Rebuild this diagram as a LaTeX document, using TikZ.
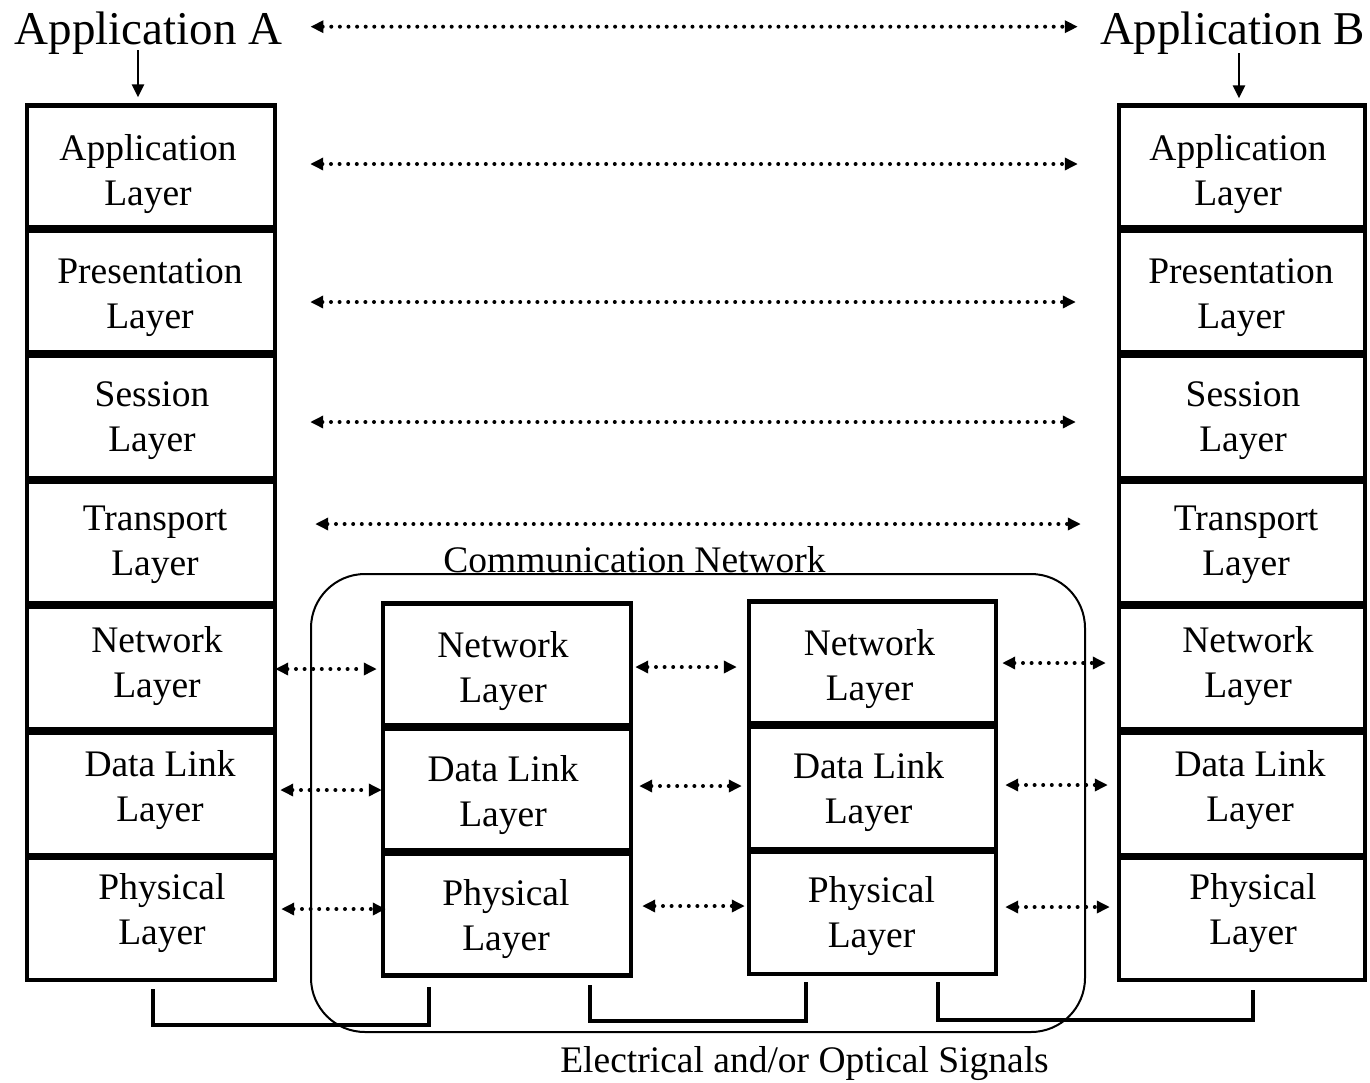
\documentclass[tikz,border=0pt]{standalone}
\usepackage{fontspec}
\setmainfont{Liberation Serif}
\usetikzlibrary{arrows.meta}
\begin{document}
\begin{tikzpicture}[x=1pt,y=-1pt,
  layer/.style={draw, line width=4.4pt, minimum width=248pt, minimum height=122pt, inner sep=0pt},
  lt/.style={align=center, inner sep=0pt, font=\fontsize{37.5}{45}\selectfont},
  lbl/.style={inner sep=0pt, anchor=base, font=\fontsize{37.5}{45}\selectfont},
  big/.style={inner sep=0pt, anchor=base, font=\fontsize{47}{56}\selectfont},
  dar/.style={line width=4pt, dash pattern=on 0pt off 8.6pt, line cap=round,
    {Triangle[length=13pt,width=12pt]}-{Triangle[length=13pt,width=12pt]}},
  sar/.style={line width=2.8pt, -{Triangle[length=13pt,width=12pt]}},
  br/.style={line width=4.4pt}]
\useasboundingbox (0,0) rectangle (1370,1082);

% container
\node[draw, line width=2pt, rounded corners=54pt, minimum width=774pt, minimum height=458pt, inner sep=0pt] (net) at (698,803) {};
\node[lbl] (cn) at (634.5,572) {Communication Network};
\node[lbl] (sig) at (804.5,1072) {Electrical and/or Optical Signals};

% top labels
\node[big] (AppA) at (148.5,44) {Application A};
\node[big] (AppB) at (1232.5,44) {Application B};

% left stack
\node[layer, label={[lt, shift={(-3,8)}]center:Application\\Layer}] (LA1) at (151,166.5) {};
\node[layer, label={[lt, shift={(-1,6)}]center:Presentation\\Layer}] (LA2) at (151,291.5) {};
\node[layer, label={[lt, shift={(1,3.5)}]center:Session\\Layer}] (LA3) at (151,417) {};
\node[layer, label={[lt, shift={(4,2)}]center:Transport\\Layer}] (LA4) at (151,542.5) {};
\node[layer, label={[lt, shift={(6,-1.5)}]center:Network\\Layer}] (LA5) at (151,668) {};
\node[layer, label={[lt, shift={(9,-3.5)}]center:Data Link\\Layer}] (LA6) at (151,794) {};
\node[layer, label={[lt, shift={(11,-5.5)}]center:Physical\\Layer}] (LA7) at (151,919) {};

% right stack
\tikzset{rl/.style={layer, minimum width=246pt}}
\node[rl, label={[lt, shift={(-4,8)}]center:Application\\Layer}] (RB1) at (1242,166.5) {};
\node[rl, label={[lt, shift={(-1,6)}]center:Presentation\\Layer}] (RB2) at (1242,291.5) {};
\node[rl, label={[lt, shift={(1,3.5)}]center:Session\\Layer}] (RB3) at (1242,417) {};
\node[rl, label={[lt, shift={(4,2)}]center:Transport\\Layer}] (RB4) at (1242,542.5) {};
\node[rl, label={[lt, shift={(6,-1.5)}]center:Network\\Layer}] (RB5) at (1242,668) {};
\node[rl, label={[lt, shift={(8,-3.5)}]center:Data Link\\Layer}] (RB6) at (1242,794) {};
\node[rl, label={[lt, shift={(11,-5.5)}]center:Physical\\Layer}] (RB7) at (1242,919) {};

% middle stacks
\node[layer, label={[lt, shift={(-4,7)}]center:Network\\Layer}] (M15) at (507,664.5) {};
\node[layer, label={[lt, shift={(-4,6)}]center:Data Link\\Layer}] (M16) at (507,789.5) {};
\node[layer, label={[lt, shift={(-1,5)}]center:Physical\\Layer}] (M17) at (507,914.5) {};
\node[layer, minimum width=247pt, label={[lt, shift={(-3,7)}]center:Network\\Layer}] (M25) at (872.5,662.5) {};
\node[layer, minimum width=247pt, label={[lt, shift={(-4,4.5)}]center:Data Link\\Layer}] (M26) at (872.5,788) {};
\node[layer, minimum width=247pt, label={[lt, shift={(-1,3.5)}]center:Physical\\Layer}] (M27) at (872.5,913) {};

% down arrows
\draw[sar] ([shift={(-10.5,6)}]AppA.base) -- ([shift={(-13,-6)}]LA1.north);
\draw[sar] ([shift={(6.5,9)}]AppB.base) -- ([shift={(-3,-5)}]RB1.north);

% peer arrows
\draw[dar] ([shift={(28,-6)}]AppA.east) -- ([shift={(-22,-6)}]AppB.west);
\draw[dar] ([shift={(33,-2.5)}]LA1.east) -- ([shift={(-39,-2.5)}]RB1.west);
\draw[dar] ([shift={(33,10.5)}]LA2.east) -- ([shift={(-41,10.5)}]RB2.west);
\draw[dar] ([shift={(33,5)}]LA3.east) -- ([shift={(-41,5)}]RB3.west);
\draw[dar] ([shift={(38,-18.5)}]LA4.east) -- ([shift={(-36,-18.5)}]RB4.west);

\draw[dar] ([shift={(-2,1)}]LA5.east) -- ([shift={(-4,4.5)}]M15.west);
\draw[dar] ([shift={(2,2.5)}]M15.east) -- ([shift={(-10,4.5)}]M25.west);
\draw[dar] ([shift={(4,0.5)}]M25.east) -- ([shift={(-11,-5)}]RB5.west);

\draw[dar] ([shift={(3,-4)}]LA6.east) -- ([shift={(1,0.5)}]M16.west);
\draw[dar] ([shift={(6,-3.5)}]M16.east) -- ([shift={(-5,-2)}]M26.west);
\draw[dar] ([shift={(7,-3)}]M26.east) -- ([shift={(-9,-9)}]RB6.west);

\draw[dar] ([shift={(4,-10)}]LA7.east) -- ([shift={(5,-5.5)}]M17.west);
\draw[dar] ([shift={(9,-8.5)}]M17.east) -- ([shift={(-2,-7)}]M27.west);
\draw[dar] ([shift={(7,-6)}]M27.east) -- ([shift={(-7,-12)}]RB7.west);

% signal brackets
\draw[br] ([shift={(2,7)}]LA7.south) |- ([shift={(-78,47.5)}]M17.south) -- ([shift={(-78,9.5)}]M17.south);
\draw[br] ([shift={(83,7.5)}]M17.south) |- ([shift={(-66.5,45)}]M27.south) -- ([shift={(-66.5,6)}]M27.south);
\draw[br] ([shift={(65.5,6)}]M27.south) |- ([shift={(11,38)}]RB7.south) -- ([shift={(11,8)}]RB7.south);
\end{tikzpicture}
\end{document}
